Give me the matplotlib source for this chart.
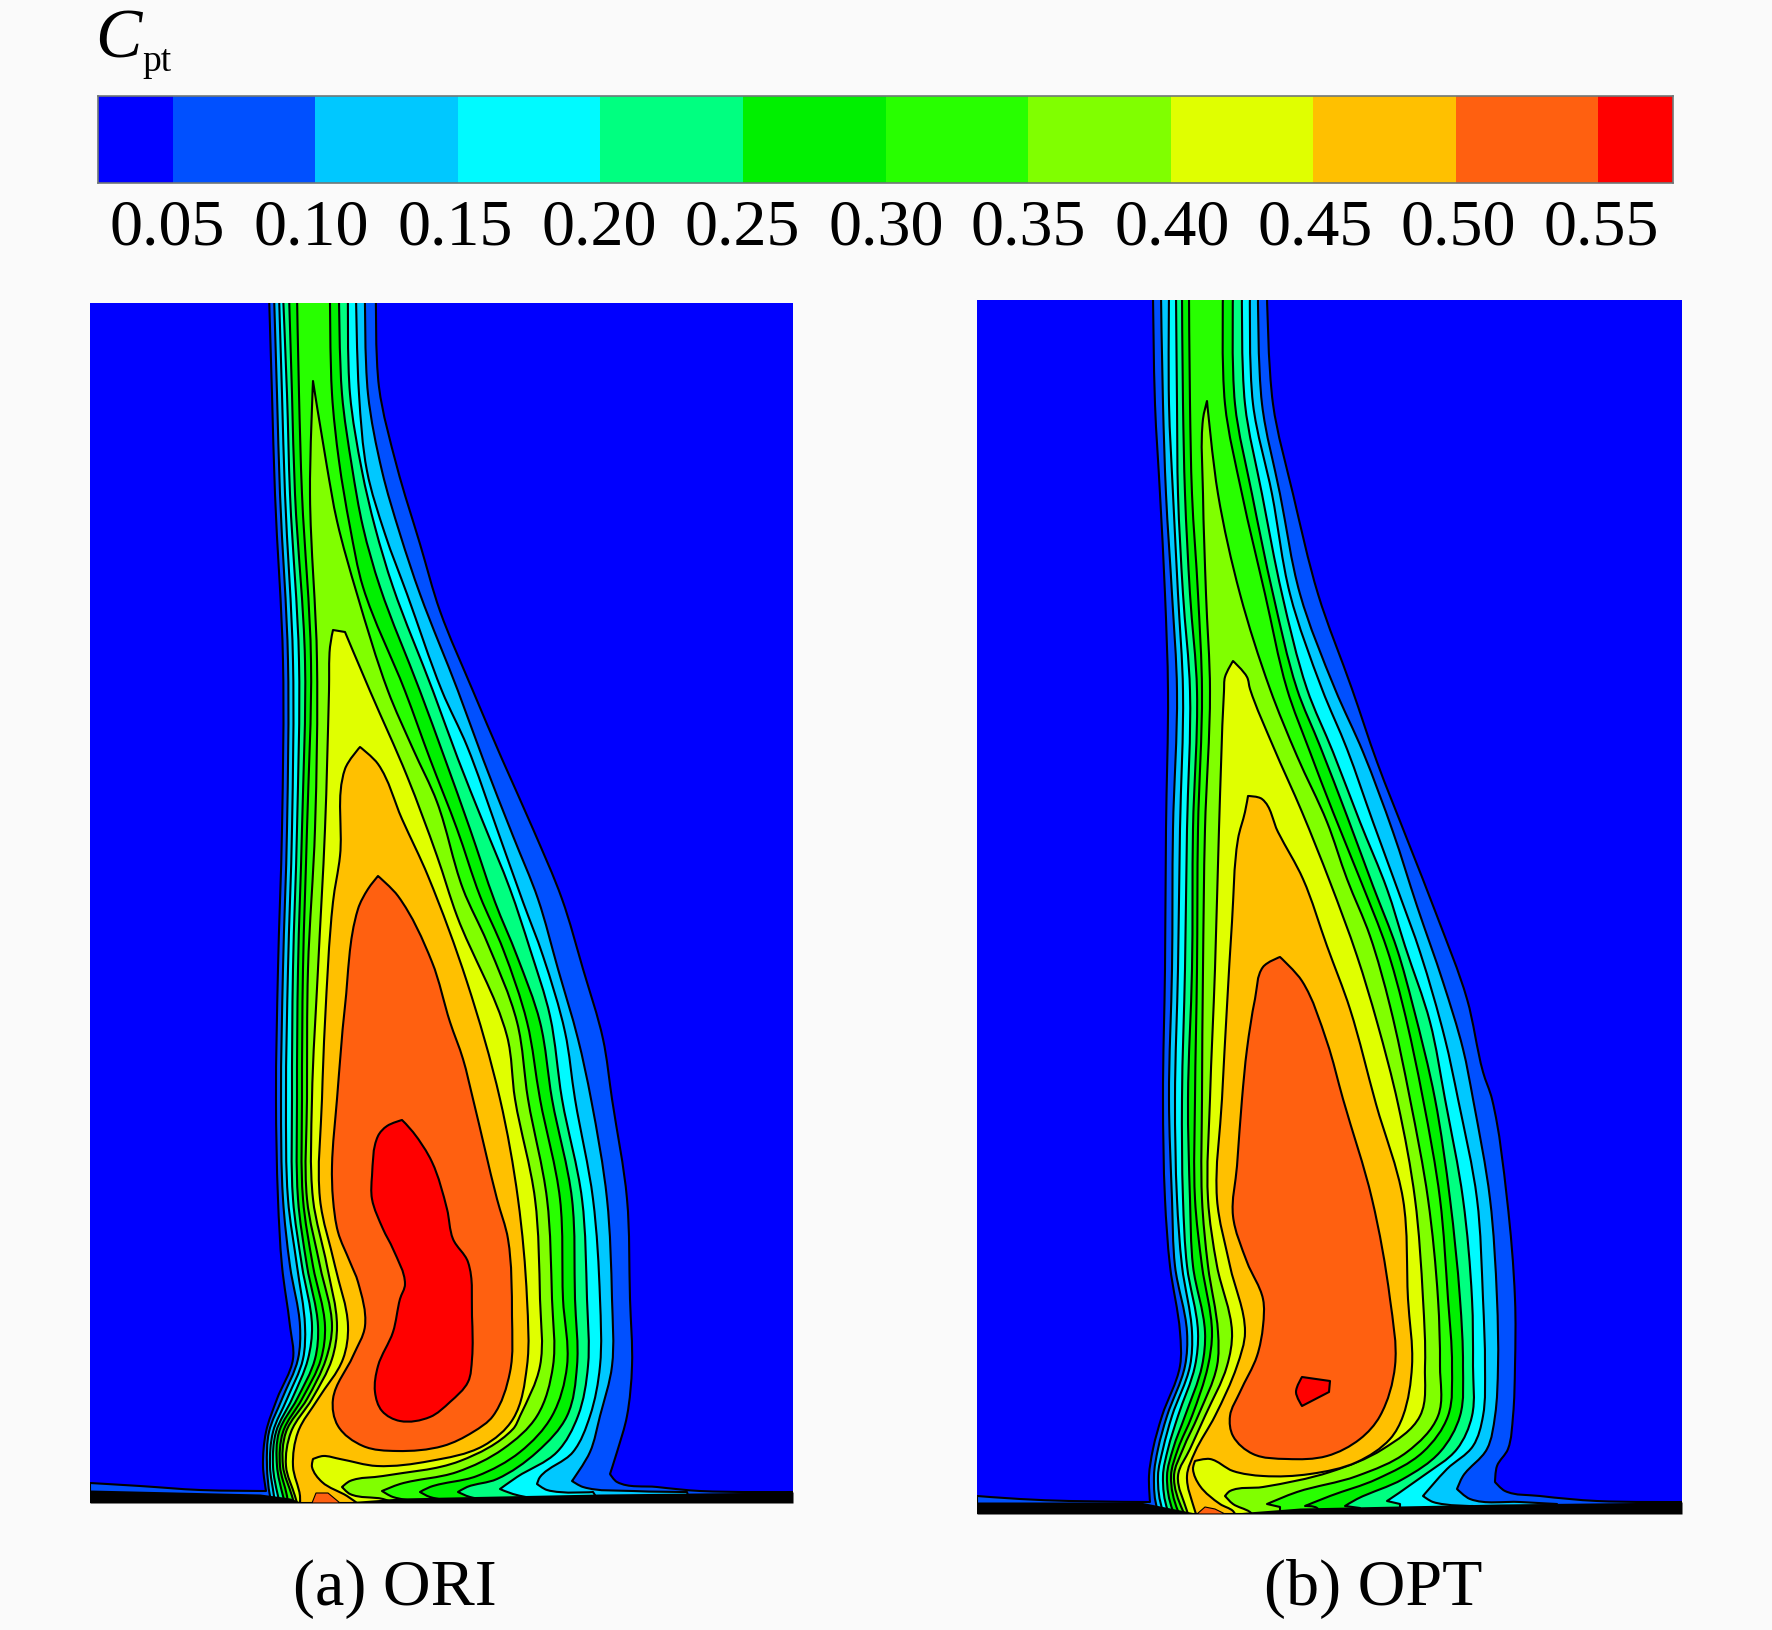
import matplotlib
matplotlib.use("Agg")
import matplotlib.pyplot as plt
from matplotlib.colors import ListedColormap, BoundaryNorm
from matplotlib.patches import PathPatch
from matplotlib.path import Path
from matplotlib.transforms import ScaledTranslation
import numpy as np

plt.rcParams['font.family'] = ['Liberation Serif', 'DejaVu Serif']

LEVELS = [0.05, 0.10, 0.15, 0.20, 0.25, 0.30, 0.35, 0.40, 0.45, 0.50, 0.55]
TICK_LABELS = ['0.05', '0.10', '0.15', '0.20', '0.25', '0.30', '0.35', '0.40', '0.45', '0.50', '0.55']
BAND_COLORS = ['#0000ff', '#0050ff', '#00c8ff', '#00faff', '#00ff80', '#00f000',
               '#28ff00', '#80ff00', '#e0ff00', '#ffc000', '#ff6010', '#ff0000']
BAR_RANGE = (0.0237, 0.5763)
PANEL_NAMES = ['(a) ORI', '(b) OPT']

# Iso-contours of Cpt, one closed outline per level (x, y)
ori_05 = [(269,295),(272,395),(275,495),(283,662),(282,830),(278,970),(276,1100),(278,1200),(282,1267),(290,1327),(293,1360),(277,1400),(266,1433),(263,1467),(266,1492),(200,1491),(140,1487),(90,1484),(90,1504),(793,1504),(793,1493),(700,1492),(657,1488),(617,1483),(610,1475),(617,1453),(627,1417),(632,1367),(630,1300),(627,1200),(612,1100),(603,1040),(583,970),(562,900),(533,830),(502,760),(473,692),(440,612),(420,545),(397,468),(379,388),(376,295)]
ori_10 = [(274,295),(277,395),(280,495),(288,662),(287,830),(283,970),(281,1100),(283,1200),(290,1267),(300,1327),(298,1360),(282,1400),(269,1433),(267,1467),(270,1497),(272,1504),(690,1504),(687,1493),(633,1492),(583,1488),(572,1482),(590,1453),(600,1417),(612,1367),(612,1300),(607,1200),(591,1100),(578,1040),(558,970),(538,900),(513,837),(483,760),(458,692),(420,595),(400,535),(382,472),(368,395),(365,295)]
ori_15 = [(279,295),(282,395),(285,495),(293,662),(292,830),(288,970),(286,1100),(288,1200),(297,1267),(305,1327),(303,1360),(287,1400),(273,1433),(270,1467),(274,1497),(275,1504),(600,1504),(593,1493),(547,1491),(537,1485),(540,1478),(573,1453),(590,1417),(600,1367),(600,1300),(593,1200),(575,1100),(565,1033),(543,957),(523,903),(497,830),(467,747),(442,692),(407,595),(385,535),(367,472),(359,395),(356,295)]
ori_20 = [(283,295),(287,395),(290,495),(299,662),(297,830),(293,970),(292,1100),(293,1200),(302,1267),(312,1327),(308,1360),(292,1400),(276,1433),(273,1467),(278,1497),(280,1504),(560,1504),(513,1495),(500,1490),(517,1478),(557,1453),(578,1417),(588,1367),(587,1300),(582,1200),(562,1100),(550,1017),(530,950),(510,890),(483,823),(458,760),(433,692),(393,588),(375,528),(362,472),(350,395),(348,295)]
ori_25 = [(289,295),(292,395),(295,495),(305,662),(302,830),(298,970),(297,1100),(298,1200),(307,1267),(318,1327),(315,1360),(297,1400),(279,1433),(277,1467),(283,1497),(285,1504),(520,1504),(470,1498),(458,1493),(467,1488),(497,1480),(537,1453),(567,1417),(577,1367),(575,1300),(572,1200),(552,1100),(540,1023),(517,957),(495,903),(470,830),(445,760),(420,692),(380,588),(363,528),(352,468),(342,395),(339,295)]
ori_30 = [(297,295),(299,395),(302,495),(311,662),(307,830),(303,970),(302,1100),(303,1200),(313,1267),(325,1327),(321,1360),(302,1400),(283,1433),(280,1467),(287,1497),(288,1504),(480,1504),(430,1498),(420,1493),(430,1488),(477,1477),(520,1453),(552,1417),(567,1367),(563,1300),(560,1200),(540,1100),(527,1023),(503,950),(480,897),(457,830),(430,760),(405,692),(363,588),(350,528),(339,462),(332,395),(330,295)]
ori_35 = [(313,382),(310,495),(317,662),(315,830),(308,970),(307,1100),(307,1200),(320,1267),(332,1327),(326,1360),(307,1400),(286,1433),(283,1467),(292,1497),(294,1504),(440,1504),(393,1498),(382,1492),(400,1485),(457,1473),(503,1450),(537,1417),(553,1367),(552,1300),(547,1200),(528,1100),(517,1023),(487,943),(463,890),(437,803),(413,750),(388,692),(357,595),(337,522),(327,468)]
ori_40 = [(333,631),(330,648),(329,692),(325,830),(318,970),(312,1100),(313,1200),(327,1267),(337,1327),(332,1360),(312,1400),(291,1433),(286,1467),(295,1497),(297,1504),(395,1504),(383,1500),(350,1495),(342,1488),(350,1482),(383,1477),(460,1462),(513,1430),(520,1417),(540,1367),(540,1300),(535,1200),(515,1100),(507,1037),(457,917),(437,857),(407,777),(370,692),(345,633)]
ori_45 = [(360,748),(345,770),(340,857),(333,903),(325,1023),(322,1100),(320,1200),(335,1267),(348,1327),(343,1360),(318,1400),(298,1433),(293,1467),(300,1497),(300,1504),(357,1504),(347,1497),(322,1483),(312,1468),(313,1460),(323,1457),(340,1460),(377,1467),(430,1462),(483,1447),(513,1420),(527,1367),(527,1300),(518,1200),(500,1100),(467,983),(428,877),(402,820),(378,765)]
ori_50 = [(378,877),(398,897),(432,963),(450,1023),(463,1060),(473,1100),(497,1200),(508,1240),(512,1317),(510,1373),(493,1417),(473,1433),(443,1447),(397,1452),(363,1447),(338,1427),(333,1400),(353,1357),(365,1327),(358,1283),(350,1263),(338,1233),(333,1200),(332,1167),(337,1100),(345,1007),(358,910),(368,890)]
ori_55 = [(402,1121),(413,1133),(432,1163),(447,1210),(453,1240),(468,1263),(472,1317),(472,1360),(468,1383),(450,1403),(430,1418),(400,1422),(382,1412),(375,1393),(378,1367),(393,1333),(400,1300),(405,1285),(393,1250),(383,1230),(372,1200),(372,1177),(378,1137),(387,1127)]
ori_bump = [(312,1504),(316,1494),(328,1494),(340,1504)]
ori_wall_x = [90,260,290,300,345,400,500,600,793]
ori_wall_y = [1491,1495,1499,1503,1503,1499,1497,1495,1493]

opt_05 = [(1153,295),(1155,405),(1160,495),(1165,595),(1168,692),(1166,830),(1165,970),(1163,1100),(1165,1200),(1170,1267),(1180,1333),(1180,1367),(1162,1417),(1153,1450),(1149,1477),(1150,1503),(1070,1502),(1020,1500),(977,1497),(977,1515),(1682,1515),(1682,1503),(1597,1502),(1540,1497),(1505,1492),(1495,1483),(1497,1467),(1508,1450),(1513,1417),(1515,1367),(1515,1300),(1507,1200),(1492,1100),(1483,1073),(1467,1000),(1437,917),(1407,840),(1377,763),(1352,690),(1318,595),(1293,495),(1273,405),(1267,295)]
opt_10 = [(1161,295),(1163,405),(1166,495),(1172,595),(1177,692),(1173,830),(1172,970),(1169,1100),(1172,1200),(1175,1267),(1187,1333),(1185,1367),(1167,1417),(1158,1450),(1154,1477),(1158,1512),(1160,1515),(1557,1515),(1557,1505),(1520,1503),(1470,1500),(1457,1490),(1463,1477),(1487,1450),(1495,1417),(1498,1367),(1497,1300),(1490,1200),(1473,1100),(1463,1050),(1443,983),(1417,907),(1393,833),(1363,753),(1335,690),(1300,595),(1280,495),(1262,405),(1258,295)]
opt_15 = [(1169,295),(1169,405),(1173,495),(1178,595),(1183,692),(1180,830),(1178,970),(1175,1100),(1177,1200),(1182,1267),(1192,1333),(1190,1367),(1172,1417),(1163,1450),(1158,1477),(1163,1512),(1165,1515),(1473,1515),(1473,1507),(1433,1503),(1423,1497),(1447,1470),(1473,1447),(1483,1417),(1485,1367),(1483,1300),(1477,1200),(1458,1100),(1445,1040),(1420,953),(1400,897),(1373,823),(1347,750),(1322,690),(1290,595),(1272,495),(1253,405),(1250,295)]
opt_20 = [(1176,295),(1177,405),(1178,495),(1183,595),(1190,692),(1187,830),(1185,970),(1182,1100),(1183,1200),(1187,1267),(1198,1333),(1195,1367),(1178,1417),(1168,1450),(1163,1477),(1168,1512),(1170,1515),(1400,1515),(1400,1505),(1387,1502),(1423,1477),(1457,1450),(1472,1417),(1473,1367),(1472,1300),(1463,1200),(1445,1100),(1430,1023),(1405,947),(1387,890),(1360,823),(1333,753),(1307,690),(1282,595),(1262,495),(1245,405),(1242,295)]
opt_25 = [(1182,295),(1183,405),(1185,495),(1190,595),(1197,692),(1193,830),(1192,970),(1188,1100),(1190,1200),(1193,1267),(1205,1333),(1202,1367),(1185,1417),(1173,1450),(1167,1477),(1173,1512),(1175,1515),(1360,1515),(1360,1509),(1345,1507),(1357,1500),(1403,1480),(1440,1453),(1460,1417),(1463,1367),(1460,1300),(1450,1200),(1435,1100),(1413,1007),(1397,950),(1373,887),(1347,817),(1320,747),(1297,690),(1273,595),(1252,495),(1235,405),(1233,295)]
opt_30 = [(1189,295),(1190,405),(1192,495),(1198,595),(1202,692),(1198,830),(1197,970),(1195,1100),(1195,1200),(1202,1267),(1212,1333),(1208,1367),(1192,1417),(1178,1450),(1171,1477),(1178,1512),(1180,1515),(1320,1515),(1317,1509),(1305,1507),(1330,1497),(1377,1480),(1423,1453),(1448,1417),(1452,1367),(1448,1300),(1440,1200),(1423,1100),(1403,1007),(1387,950),(1360,880),(1333,813),(1310,753),(1287,690),(1265,595),(1242,495),(1225,405),(1223,295)]
opt_35 = [(1207,402),(1203,420),(1203,495),(1206,595),(1210,692),(1205,830),(1203,970),(1202,1100),(1202,1200),(1208,1267),(1218,1333),(1217,1367),(1198,1417),(1183,1450),(1174,1477),(1183,1512),(1185,1515),(1280,1515),(1280,1508),(1267,1505),(1297,1493),(1357,1477),(1407,1453),(1438,1417),(1440,1367),(1438,1300),(1428,1200),(1410,1100),(1390,1007),(1370,937),(1347,880),(1327,823),(1297,757),(1270,690),(1240,595),(1218,495)]
opt_40 = [(1233,662),(1225,678),(1224,692),(1219,830),(1215,970),(1210,1100),(1208,1200),(1217,1267),(1232,1333),(1227,1367),(1205,1417),(1190,1450),(1178,1477),(1187,1512),(1188,1515),(1252,1515),(1250,1513),(1233,1505),(1225,1497),(1230,1492),(1263,1488),(1330,1473),(1383,1450),(1420,1417),(1425,1367),(1423,1300),(1415,1200),(1398,1105),(1377,1023),(1357,957),(1330,883),(1302,813),(1273,747),(1250,690),(1247,678)]
opt_45 = [(1248,797),(1245,813),(1238,840),(1232,923),(1227,1007),(1222,1100),(1217,1200),(1230,1267),(1245,1333),(1237,1367),(1215,1417),(1195,1453),(1187,1477),(1195,1512),(1196,1515),(1235,1515),(1233,1512),(1220,1505),(1200,1487),(1193,1470),(1195,1462),(1210,1460),(1233,1472),(1263,1477),(1310,1475),(1357,1463),(1390,1440),(1403,1417),(1412,1367),(1408,1300),(1403,1200),(1376,1105),(1350,1010),(1327,947),(1303,880),(1278,833),(1262,800)]
opt_50 = [(1280,958),(1302,982),(1327,1043),(1343,1100),(1372,1200),(1390,1300),(1395,1367),(1380,1417),(1360,1440),(1327,1457),(1287,1460),(1253,1455),(1233,1437),(1230,1417),(1240,1393),(1257,1357),(1263,1327),(1263,1300),(1247,1263),(1233,1217),(1237,1167),(1242,1100),(1247,1050),(1255,1000),(1263,968)]
opt_55 = [(1302,1378),(1330,1382),(1329,1393),(1302,1407),(1296,1393)]
opt_bump = [(1197,1515),(1205,1508),(1215,1510),(1225,1515)]
opt_wall_x = [977,1140,1175,1195,1235,1300,1400,1500,1682]
opt_wall_y = [1503,1503,1510,1514,1514,1509,1507,1505,1503]

ori_levels = [ori_05, ori_10, ori_15, ori_20, ori_25, ori_30, ori_35, ori_40, ori_45, ori_50, ori_55]
opt_levels = [opt_05, opt_10, opt_15, opt_20, opt_25, opt_30, opt_35, opt_40, opt_45, opt_50, opt_55]

W, H = 1772, 1631
BG = '#fafafa'
# horizontal nudges of the colour-bar labels, in pixels
LABEL_NUDGE = [-6, -4, -3, -1, -1, 1, 0, 2, 2, 3, 3]
fig = plt.figure(figsize=(W / 100, H / 100), dpi=100, facecolor=BG)


def px_axes(x0, y0, x1, y1):
    return fig.add_axes([x0 / W, 1 - y1 / H, (x1 - x0) / W, (y1 - y0) / H])


def outline_path(pts, corner_deg=55):
    """Closed Bezier path through the read points; sharp turns stay corners."""
    p = np.asarray(pts, float)
    n = len(p)
    tang = np.zeros_like(p)
    for i in range(n):
        a = p[i] - p[i - 1]
        b = p[(i + 1) % n] - p[i]
        ua, ub = a / np.hypot(*a), b / np.hypot(*b)
        turn = np.degrees(np.arccos(np.clip(ua @ ub, -1, 1)))
        if turn < corner_deg:
            t = ua + ub
            tang[i] = t / np.hypot(*t)
    verts = [p[0]]
    codes = [Path.MOVETO]
    for i in range(n):
        j = (i + 1) % n
        seg = np.hypot(*(p[j] - p[i]))
        verts += [p[i] + tang[i] * seg / 3, p[j] - tang[j] * seg / 3, p[j]]
        codes += [Path.CURVE4] * 3
    verts.append(p[0])
    codes.append(Path.CLOSEPOLY)
    return Path(verts, codes)


def draw_panel(box, outlines, bump, wall_x, wall_y, name, label_x):
    x0, y0, x1, y1 = box
    ax = px_axes(x0, y0, x1, y1)
    ax.set_xlim(x0, x1)
    ax.set_ylim(y1, y0)
    ax.set_facecolor(BAND_COLORS[0])
    ax.set_xticks([])
    ax.set_yticks([])
    for s in ax.spines.values():
        s.set_visible(False)
    for pts, col in zip(outlines, BAND_COLORS[1:]):
        ax.add_patch(PathPatch(outline_path(pts), facecolor=col, edgecolor='black',
                               lw=1.5, joinstyle='round'))
    ax.fill_between(wall_x, wall_y, y1, color='black', lw=0, zorder=5)
    xs, ys = zip(*bump)
    ax.fill(xs, ys, facecolor=BAND_COLORS[10], edgecolor='black', lw=0.8, zorder=6)
    fig.text(label_x / W, 1 - 1589 / H, name, fontsize=47.5, ha='center', va='center')


# Colour bar
cax = px_axes(98, 97, 1673, 184)
edges = [BAR_RANGE[0]] + LEVELS + [BAR_RANGE[1]]
mids = np.array([(a + b) / 2 for a, b in zip(edges[:-1], edges[1:])])
cmap = ListedColormap(BAND_COLORS)
norm = BoundaryNorm(edges, cmap.N)
cax.pcolormesh(edges, [0, 1], mids[None, :], cmap=cmap, norm=norm)
cax.set_xlim(*BAR_RANGE)
cax.set_yticks([])
cax.set_xticks(LEVELS)
cax.set_xticklabels(TICK_LABELS, fontsize=47.5)
cax.tick_params(length=0, pad=11)
for lab, dx in zip(cax.get_xticklabels(), LABEL_NUDGE):
    lab.set_transform(lab.get_transform() + ScaledTranslation(dx / 72 * 0.72, 0, fig.dpi_scale_trans))
for s in cax.spines.values():
    s.set_color('#707878')
    s.set_linewidth(1.2)

fig.text(95 / W, 1 - 58 / H, 'C', fontsize=50, style='italic', ha='left', va='baseline')
fig.text(142 / W, 1 - 71 / H, 'pt', fontsize=27, ha='left', va='baseline')

draw_panel((90, 304, 793, 1504), ori_levels, ori_bump, ori_wall_x, ori_wall_y, PANEL_NAMES[0], 395)
draw_panel((977, 301, 1682, 1515), opt_levels, opt_bump, opt_wall_x, opt_wall_y, PANEL_NAMES[1], 1373)

fig.savefig('out.png', dpi=100, facecolor=BG)
